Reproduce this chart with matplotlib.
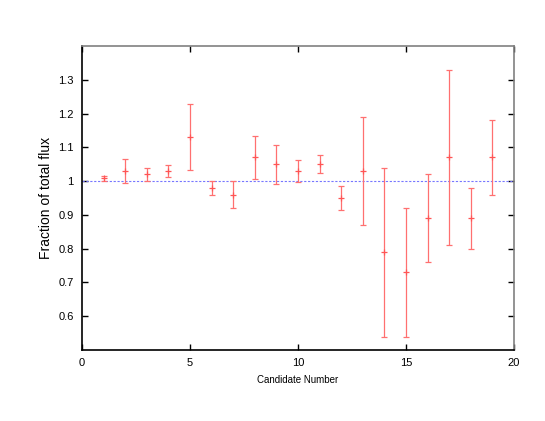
import matplotlib
matplotlib.use("Agg")
import matplotlib.pyplot as plt

# Candidate flux fractions with errors
candidates = [1, 2, 3, 4, 5, 6, 7, 8, 9, 10, 11, 12, 13, 14, 15, 16, 17, 18, 19]
fraction = [1.008, 1.03, 1.02, 1.03, 1.13, 0.98, 0.96, 1.07, 1.05, 1.03,
            1.05, 0.95, 1.03, 0.79, 0.73, 0.89, 1.07, 0.89, 1.07]
error = [0.008, 0.036, 0.02, 0.017, 0.097, 0.02, 0.04, 0.065, 0.058, 0.032,
         0.027, 0.035, 0.16, 0.25, 0.19, 0.13, 0.26, 0.09, 0.11]

y_ticks = [0.6, 0.7, 0.8, 0.9, 1.0, 1.1, 1.2, 1.3]
y_tick_labels = ["0.6", "0.7", "0.8", "0.9", "1", "1.1", "1.2", "1.3"]
x_ticks = [0, 5, 10, 15, 20]

plt.rcParams["font.family"] = ["Liberation Sans", "DejaVu Sans"]

fig = plt.figure(figsize=(5.45, 4.21), dpi=100)
ax = fig.add_axes([0.1505, 0.1686, 0.7925, 0.7221])

# reference line at 1
ax.plot([0, 20], [1, 1], linestyle=(0, (2, 1.5)), color="#7777ff", linewidth=0.8)

ax.errorbar(candidates, fraction, yerr=error, fmt="+", color="#ff5555",
            ecolor="#ff7070", elinewidth=0.9, capsize=2.0, capthick=0.9,
            markersize=4, markeredgewidth=0.9)

ax.set_xlim(0, 20)
ax.set_ylim(0.5, 1.4)
ax.set_xticks(x_ticks)
ax.set_xticklabels([str(t) for t in x_ticks])
ax.set_yticks(y_ticks)
ax.set_yticklabels(y_tick_labels)

ax.tick_params(direction="in", top=True, right=True, length=4, width=1,
               labelsize=8, pad=6)
for side in ["top", "right"]:
    ax.spines[side].set_color("#808080")
for side in ax.spines:
    ax.spines[side].set_linewidth(1.2)

ax.set_xlabel("Candidate Number", fontsize=7, labelpad=5)
ax.set_ylabel("Fraction of total flux", fontsize=10, labelpad=4)

fig.savefig("out.png", dpi=100)
